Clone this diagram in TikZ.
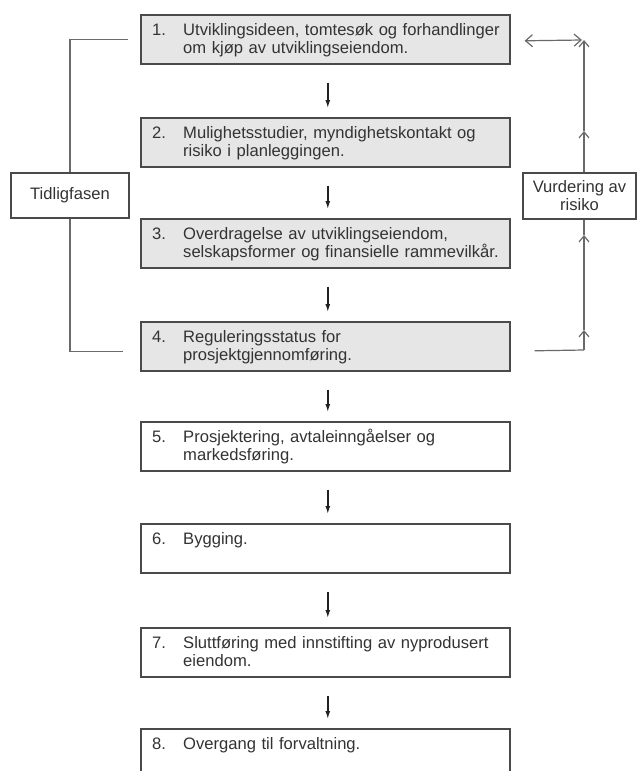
\documentclass[tikz,border=0pt]{standalone}
\usepackage{fontspec}
\setmainfont{Liberation Sans}
\usetikzlibrary{arrows.meta,calc}

\definecolor{boxline}{HTML}{4A4A4A}
\definecolor{boxfill}{HTML}{E6E6E6}
\definecolor{wire}{HTML}{6A6A6A}
\definecolor{ink}{HTML}{333333}
\definecolor{flow}{HTML}{222222}

\newcommand\stagefont{\fontsize{16.6}{18}\selectfont}

\begin{document}
\begin{tikzpicture}[x=1pt,y=-1pt,
  stage/.style={draw=boxline, line width=1.6pt, fill=white,
    minimum width=369pt, minimum height=49pt, inner sep=0pt, anchor=north west},
  early/.style={stage, fill=boxfill},
  num/.style={text=ink, font=\stagefont, anchor=base west, inner sep=0pt},
  desc/.style={text=ink, font=\stagefont, anchor=base west, inner sep=0pt,
    text width=322pt, align=left},
  side/.style={draw=boxline, line width=1.2pt, fill=white, text=ink,
    font=\stagefont, align=center, inner sep=0pt},
  wire/.style={draw=wire, line width=1.2pt},
  barb/.tip={Straight Barb[length=6pt,width=10pt]},
  down/.style={draw=flow, line width=1.4pt, -{Latex[length=8pt,width=5pt]},
    shorten <=18pt, shorten >=9pt}
]
\useasboundingbox (0,0) rectangle (637,771);

% the eight stages, the first four belonging to the early phase
\node[early] (b1) at (140,14)  {};
\node[early] (b2) at (140,117) {};
\node[early] (b3) at (140,218) {};
\node[early] (b4) at (140,321) {};
\node[stage] (b5) at (140,421) {};
\node[stage] (b6) at (140,523) {};
\node[stage] (b7) at (140,627) {};
\node[stage] (b8) at (140,728) {};

\foreach \i/\txt in {
  1/{Utviklingsideen, tomtesøk og forhandlinger\\om kjøp av utviklingseiendom.},
  2/{Mulighetsstudier, myndighetskontakt og\\risiko i planleggingen.},
  3/{Overdragelse av utviklingseiendom,\\selskapsformer og finansielle rammevilkår.},
  4/{Reguleringsstatus for\\prosjektgjennomføring.},
  5/{Prosjektering, avtaleinngåelser og\\markedsføring.},
  6/{Bygging.},
  7/{Sluttføring med innstifting av nyprodusert\\eiendom.},
  8/{Overgang til forvaltning.}} {
  \node[num]  (n\i) at ($(b\i.north west)+(12,21.5)$) {\i.};
  \node[desc] (t\i) at ($(b\i.north west)+(43,21.5)$) {\txt};
}

% flow between consecutive stages
\foreach \a/\b in {1/2,2/3,3/4,4/5,5/6,6/7,7/8}
  \draw[down] ([xshift=2.5pt]b\a.south) -- ([xshift=2.5pt]b\b.north);

% side labels
\node[side, minimum width=118pt, minimum height=45pt] (tf) at (70,195.5) {Tidligfasen};
\node[side, minimum width=113pt, minimum height=46pt] (vr) at (579.5,196) {Vurdering av\\risiko};

% bracket for the early phase
\draw[wire] ($(b1.west)+(-12,0)$) -| (tf.north);
\draw[wire] (tf.south) |- ($(b4.west)+(-17,5.5)$);

% risk assessment loop on the right
\coordinate (rb) at (584,350);
\coordinate (r1) at (584,330);
\coordinate (r2) at (584,235);
\coordinate (r3) at (584,131);
\coordinate (r4) at (584,40);
\draw[wire] ($(b4.east)+(24,4.5)$) -- (rb);
\draw[wire,-barb] (rb) -- (r1);
\draw[wire,-barb] (r1) -- (r2);
\draw[wire] (r2) -- (vr.south -| r2);
\draw[wire,-barb] (vr.north -| r3) -- (r3);
\draw[wire,-barb] (r3) -- (r4);
\draw[wire,{Straight Barb[length=7pt,width=12pt]}-{Straight Barb[length=7pt,width=12pt]}]
  ($(b1.east)+(14,1.5)$) -- ($(r4)+(-2,0)$);
\end{tikzpicture}
\end{document}
